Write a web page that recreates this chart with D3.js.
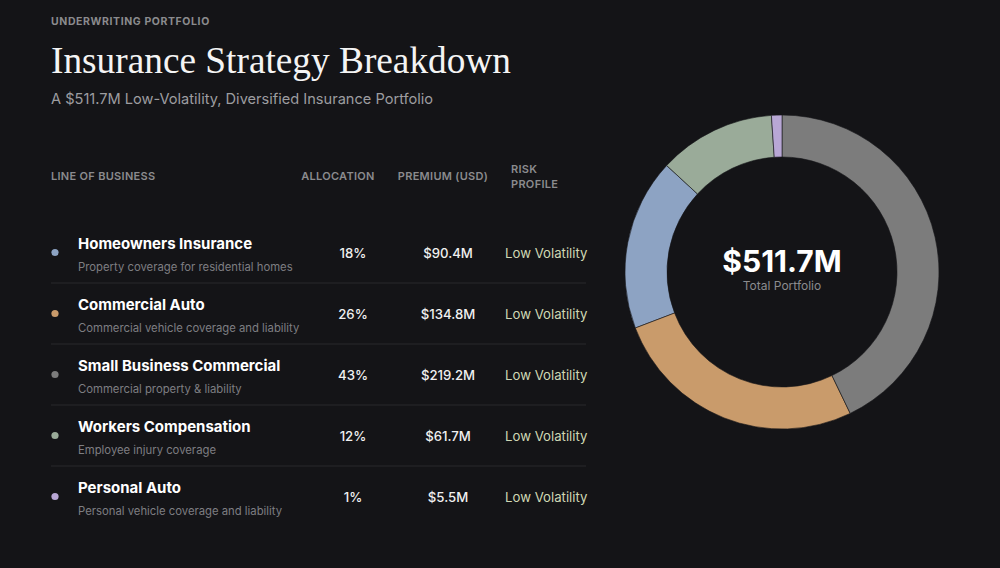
<!DOCTYPE html>
<html>
<head>
<meta charset="utf-8">
<script src="https://cdn.jsdelivr.net/npm/d3@7"></script>
<style>
  html, body { margin: 0; padding: 0; background: #141417; }
  svg { display: block; }
</style>
</head>
<body>
<svg id="chart" width="1000" height="568"></svg>
<script>
// chart data
const lines = ["Homeowners Insurance", "Commercial Auto", "Small Business Commercial", "Workers Compensation", "Personal Auto"];
const descriptions = ["Property coverage for residential homes", "Commercial vehicle coverage and liability", "Commercial property & liability", "Employee injury coverage", "Personal vehicle coverage and liability"];
const allocations = [18, 26, 43, 12, 1];
const premiums = [90.4, 134.8, 219.2, 61.7, 5.5];
const risks = ["Low Volatility", "Low Volatility", "Low Volatility", "Low Volatility", "Low Volatility"];
const colors = ["#8da3c3", "#c99b6b", "#7c7c7c", "#9aab99", "#b8a7d5"];
const headers = ["LINE OF BUSINESS", "ALLOCATION", "PREMIUM (USD)", "RISK PROFILE"];

const total = "$511.7M";

const svg = d3.select("#chart");
const sans = "Inter, 'Noto Sans', sans-serif";

// heading block
svg.append("text")
    .attr("x", 51).attr("y", 25)
    .attr("fill", "#8b8b8e")
    .attr("font-family", sans)
    .attr("font-size", 10.5)
    .attr("font-weight", 700)
    .attr("letter-spacing", 0.6)
    .text("UNDERWRITING PORTFOLIO");

svg.append("text")
    .attr("x", 51).attr("y", 73)
    .attr("fill", "#f4f4f4")
    .attr("font-family", "'Liberation Serif', 'DejaVu Serif', serif")
    .attr("font-size", 38)
    .attr("textLength", 460)
    .attr("lengthAdjust", "spacingAndGlyphs")
    .text("Insurance Strategy Breakdown");

svg.append("text")
    .attr("x", 51).attr("y", 104)
    .attr("fill", "#9d9da0")
    .attr("font-family", sans)
    .attr("font-size", 14.6)
    .text("A " + total + " Low-Volatility, Diversified Insurance Portfolio");

// table
const rowY = d3.scaleBand().domain(lines).range([222, 527]);
const colX = { name: 78, alloc: 353, prem: 448, risk: 505 };

const head = svg.append("g").attr("class", "table-head")
    .attr("fill", "#8b8b8e")
    .attr("font-family", sans)
    .attr("font-size", 11)
    .attr("font-weight", 600)
    .attr("letter-spacing", 0.3);

head.append("text").attr("x", 51).attr("y", 180).text(headers[0]);
head.append("text").attr("x", colX.alloc - 15).attr("y", 180).attr("text-anchor", "middle").text(headers[1]);
head.append("text").attr("x", colX.prem - 5).attr("y", 180).attr("text-anchor", "middle").text(headers[2]);
head.append("text").attr("x", 511).attr("y", 173).text(headers[3].split(" ")[0]);
head.append("text").attr("x", 511).attr("y", 188).text(headers[3].split(" ")[1]);

const rows = svg.append("g").attr("class", "rows")
    .selectAll("g")
    .data(lines)
    .enter()
    .append("g")
    .attr("transform", d => `translate(0,${rowY(d)})`);

const bw = rowY.bandwidth();

rows.filter((d, i) => i < lines.length - 1)
    .append("line")
    .attr("x1", 51).attr("x2", 586)
    .attr("y1", bw).attr("y2", bw)
    .attr("stroke", "#29292d")
    .attr("stroke-width", 1);

rows.append("circle")
    .attr("cx", 55).attr("cy", bw / 2)
    .attr("r", 3.6)
    .attr("fill", (d, i) => colors[i]);

rows.append("text")
    .attr("x", colX.name).attr("y", bw / 2 - 4)
    .attr("fill", "#ffffff")
    .attr("font-family", sans)
    .attr("font-size", 15)
    .attr("font-weight", 700)
    .text(d => d);

rows.append("text")
    .attr("x", colX.name).attr("y", bw / 2 + 18)
    .attr("fill", "#7e7e82")
    .attr("font-family", sans)
    .attr("font-size", 11.3)
    .text((d, i) => descriptions[i]);

rows.append("text")
    .attr("x", colX.alloc).attr("y", bw / 2 + 5)
    .attr("text-anchor", "middle")
    .attr("fill", "#f0f0f0")
    .attr("font-family", sans)
    .attr("font-size", 13.2)
    .attr("font-weight", 500)
    .text((d, i) => allocations[i] + "%");

rows.append("text")
    .attr("x", colX.prem).attr("y", bw / 2 + 5)
    .attr("text-anchor", "middle")
    .attr("fill", "#f0f0f0")
    .attr("font-family", sans)
    .attr("font-size", 13.2)
    .attr("font-weight", 500)
    .text((d, i) => "$" + premiums[i] + "M");

rows.append("text")
    .attr("x", colX.risk).attr("y", bw / 2 + 5)
    .attr("fill", "#cfd8b4")
    .attr("font-family", sans)
    .attr("font-size", 13.2)
    .text((d, i) => risks[i]);

// donut
const pie = d3.pie().value(d => d.value).sort((a, b) => b.value - a.value);
const arc = d3.arc().innerRadius(115).outerRadius(157);
const slices = pie(premiums.map((v, i) => ({ value: v, color: colors[i] })));

const donut = svg.append("g").attr("transform", "translate(782,272)");

donut.selectAll("path")
    .data(slices)
    .enter()
    .append("path")
    .attr("d", arc)
    .attr("fill", d => d.data.color)
    .attr("stroke", "#141417")
    .attr("stroke-width", 0.6);

donut.append("text")
    .attr("y", 0)
    .attr("text-anchor", "middle")
    .attr("fill", "#ffffff")
    .attr("font-family", sans)
    .attr("font-size", 30)
    .attr("font-weight", 700)
    .text(total);

donut.append("text")
    .attr("y", 18)
    .attr("text-anchor", "middle")
    .attr("fill", "#8b8b8e")
    .attr("font-family", sans)
    .attr("font-size", 12)
    .text("Total Portfolio");
</script>
</body>
</html>
